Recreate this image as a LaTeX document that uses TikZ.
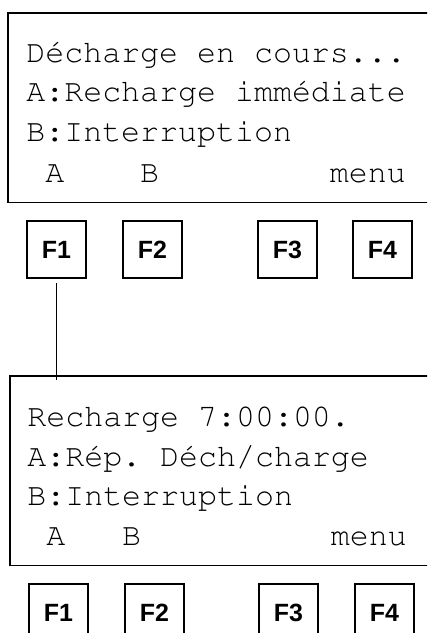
\documentclass[tikz,border=0pt]{standalone}
\usepackage[T1]{fontenc}
\usepackage{fontspec}
\newfontfamily\keyfont{Liberation Sans}
\newcommand{\lcdfont}{\fontencoding{T1}\fontfamily{pcr}\fontseries{m}\fontshape{n}\fontsize{18pt}{20pt}\selectfont\frenchspacing}
\usepackage{tikz}
\usetikzlibrary{positioning,calc}

\begin{document}
\begin{tikzpicture}[x=0.02cm, y=-0.02cm,
    screen/.style={rectangle, draw, line width=1.1pt, inner sep=0pt, outer sep=0pt,
        minimum width=9cm, minimum height=3.79cm, anchor=north west},
    lcd/.style={anchor=base west, inner sep=0pt, font=\lcdfont},
    fkey/.style={rectangle, draw, line width=1.1pt, inner sep=0pt,
        minimum width=1.18cm, minimum height=1.14cm, font=\fontsize{14.2pt}{16pt}\selectfont\keyfont\bfseries},
    link/.style={line width=1.1pt}]

    \clip (0,0) rectangle (427,633);

    % Upper display
    \node[screen] (scr1) at (8,13) {};
    \node[lcd] (s1l1) at (26,62.7) {D\'echarge en cours...};
    \node[lcd] (s1l2) at (26,101) {A:Recharge imm\'ediate};
    \node[lcd] (s1l3) at (26,141.7) {B:Interruption};
    \node[lcd] (s1l4) at (26,182.7) {~A~~~~B~~~~~~~~~menu};

    % Upper function keys
    \node[fkey] (k1) at (56.5,249.5) {F1};
    \node[fkey] (k2) at (152.5,249.5) {F2};
    \node[fkey] (k3) at (287.5,249.5) {F3};
    \node[fkey] (k4) at (382.5,249.5) {F4};

    % Lower display
    \node[screen] (scr2) at (10,376) {};
    \node[lcd] (s2l1) at (27,426.7) {Recharge 7:00:00.};
    \node[lcd] (s2l2) at (27,466) {A:R\'ep. D\'ech/charge};
    \node[lcd] (s2l3) at (27,505.7) {B:Interruption};
    \node[lcd] (s2l4) at (27,545.7) {~A~~~B~~~~~~~~~~menu};

    % Lower function keys
    \node[fkey] (m1) at (58.5,612.5) {F1};
    \node[fkey] (m2) at (154.5,612.5) {F2};
    \node[fkey] (m3) at (288.5,612.5) {F3};
    \node[fkey] (m4) at (384.5,612.5) {F4};

    % F1 leads to the next display
    \draw[link, shorten <=2.3pt, shorten >=-2.3pt] (k1.south) -- (k1.south |- scr2.north);
\end{tikzpicture}
\end{document}
